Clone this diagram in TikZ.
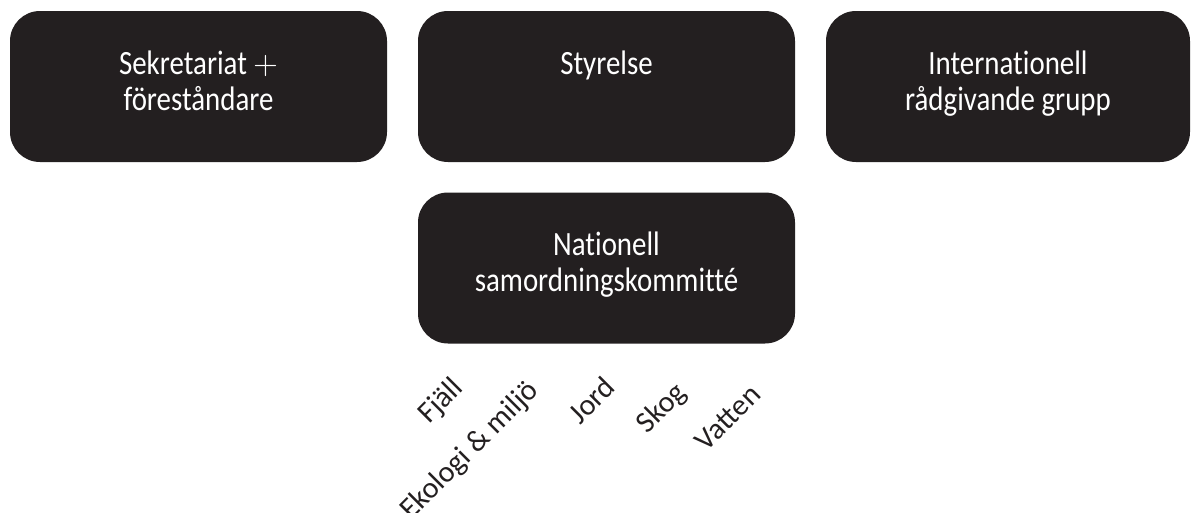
\documentclass[tikz,border=0pt]{standalone}
\usepackage{fix-cm}
\usepackage[no-math]{fontspec}
\setmainfont{Carlito}[Ligatures=NoCommon]
\newfontfamily\boxfont{Carlito}[FakeStretch=0.85,Ligatures=NoCommon]
\definecolor{boxblack}{HTML}{231F20}

\begin{document}
\begin{tikzpicture}[x=1pt,y=-1pt,
box/.style={rounded corners=30pt,fill=boxblack,minimum width=377pt,minimum height=151pt},
boxtext/.style={anchor=base,text=white,align=center,font=\boxfont\fontsize{34}{36}\selectfont},
field/.style={rotate=45,anchor=base east,text=boxblack,font=\fontsize{30}{32}\selectfont}]

\useasboundingbox (0,0) rectangle (1192,512);

\node (b1) at (198.5,86.5) [box] {};
\node (b2) at (606.5,86.5) [box] {};
\node (b3) at (1008,86.5) [box,minimum width=364pt] {};
\node (b4) at (606.5,268) [box] {};

% base of a two-line text is its last line
\node (b1t) at ([yshift=-100pt]b1.north) [boxtext] {Sekretariat $+$\\föreståndare};
\node (b2t) at ([yshift=-64pt]b2.north) [boxtext] {Styrelse};
\node (b3t) at ([yshift=-100pt]b3.north) [boxtext] {Internationell\\rådgivande grupp};
\node (b4t) at ([yshift=-99pt]b4.north) [boxtext] {Nationell\\samordningskommitté};

\node (t1) at (467,387) [field] {Fjäll};
\node (t2) at (542,390) [field] {Ekologi \& miljö};
\node (t3) at (619,387) [field] {Jord};
\node (t4) at (690,392) [field] {Skog};
\node (t5) at (765,394) [field] {Vatten};

\end{tikzpicture}
\end{document}
